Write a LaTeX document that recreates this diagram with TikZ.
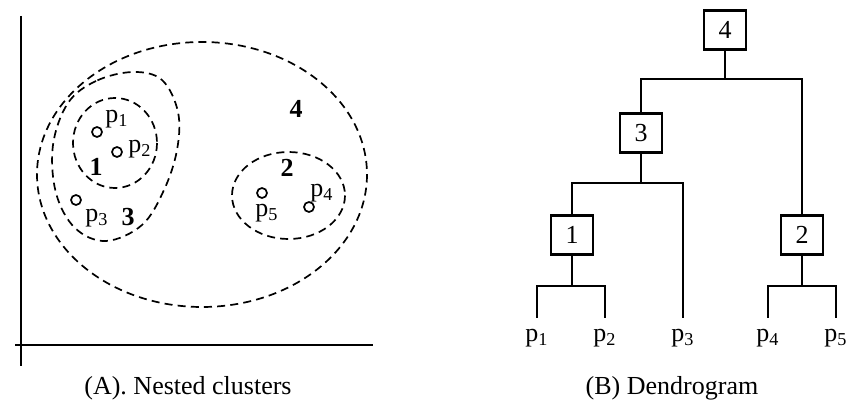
\documentclass[tikz,border=0pt]{standalone}
\usepackage{fontspec}
\setmainfont{Liberation Serif}
\usetikzlibrary{positioning}

\tikzset{
  texte/.style={font=\fontsize{13}{15}\selectfont, inner sep=0pt},
  amas/.style={dashed, dash pattern=on 4pt off 2.6pt, line width=0.85pt},
  point/.style={draw, circle, line width=0.85pt, minimum size=5pt, inner sep=0pt},
  numero/.style={texte, font=\fontsize{13}{15}\selectfont\bfseries},
  boite/.style={draw, line width=1.1pt, minimum width=21pt, minimum height=19.5pt, inner sep=0pt, font=\fontsize{13}{15}\selectfont},
  feuille/.style={texte, anchor=base, outer sep=6pt},
  trait/.style={line width=1.1pt}
}

\begin{document}
\begin{tikzpicture}[x=0.5pt, y=-0.5pt]
\useasboundingbox (0,0) rectangle (868,411);

% Axes
\draw[trait] (21,16) -- (21,366);
\draw[trait] (15,345) -- (373,345);

% Amas emboites
\draw[amas] (202,174.5) ellipse [x radius=165, y radius=132.5];
\draw[amas] plot[smooth cycle, tension=0.6] coordinates {(133,72) (96,81) (68,103) (53,145) (56,193) (75,228) (106,241) (142,225) (164,190) (177,150) (178,112) (162,80)};
\draw[amas] (115,143) ellipse [x radius=42, y radius=45];
\draw[amas] (288.5,195.5) ellipse [x radius=56.5, y radius=43.5];

% Points
\node[point] (p1) at (97,132) {};
\node[point] (p2) at (117,152) {};
\node[point] (p3) at (76,200) {};
\node[point] (p4) at (309,207) {};
\node[point] (p5) at (262,193) {};

% Noms des points
\node[texte, anchor=base west] (e1) at (105,123) {p\textsubscript{1}};
\node[texte, anchor=base west] (e2) at (128,153) {p\textsubscript{2}};
\node[texte, anchor=base west] (e3) at (85,222) {p\textsubscript{3}};
\node[texte, anchor=base west] (e4) at (310,197) {p\textsubscript{4}};
\node[texte, anchor=base west] (e5) at (255,217) {p\textsubscript{5}};

% Numeros des amas
\node[numero] (a1) at (96,167) {1};
\node[numero] (a3) at (128,217) {3};
\node[numero] (a2) at (287,168) {2};
\node[numero] (a4) at (296,109) {4};

% Dendrogramme
\node[boite] (n4) at (725,30) {4};
\node[boite] (n3) at (641,133) {3};
\node[boite] (n2) at (802,235) {2};
\node[boite] (n1) at (572,235) {1};

\node[feuille] (q1) at (537,342) {p\textsubscript{1}};
\node[feuille] (q2) at (605,342) {p\textsubscript{2}};
\node[feuille] (q3) at (683,342) {p\textsubscript{3}};
\node[feuille] (q4) at (768,342) {p\textsubscript{4}};
\node[feuille] (q5) at (836,342) {p\textsubscript{5}};

\coordinate (j4) at (725,79);
\coordinate (j3) at (641,183);
\coordinate (j1) at (572,286);
\coordinate (j2) at (802,286);

\draw[trait] (n4.south) -- (j4);
\draw[trait] (n3.north) |- (j4) -| (n2.north);
\draw[trait] (n3.south) -- (j3);
\draw[trait] (n1.north) |- (j3) -| (q3.north);
\draw[trait] (n1.south) -- (j1);
\draw[trait] (q1.north) |- (j1) -| (q2.north);
\draw[trait] (n2.south) -- (j2);
\draw[trait] (q4.north) |- (j2) -| (q5.north);

% Legendes
\node[texte] (ta) at (188,388) {(A). Nested clusters};
\node[texte] (tb) at (672,388) {(B) Dendrogram};

\end{tikzpicture}
\end{document}
